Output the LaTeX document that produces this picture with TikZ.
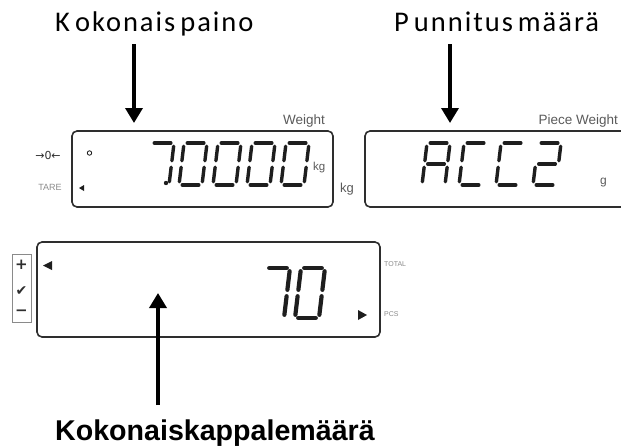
\documentclass[tikz,border=0pt]{standalone}
\usepackage{fontspec}
\setmainfont{Liberation Sans}
\newfontfamily\calib[LetterSpace=7]{Carlito}
\newfontfamily\dejavu{DejaVu Sans}
\usetikzlibrary{arrows.meta}
\definecolor{lcd}{HTML}{1E1E1E}
\definecolor{frame}{HTML}{2E2E2E}
\definecolor{lbl}{HTML}{5A5A5A}
\definecolor{lbllight}{HTML}{8A8A8A}
\def\sW{22}\def\sH{42}\def\sG{3.2}
\newcommand\sgA{\draw[segst] (\sG,0) -- ({\sW-\sG},0);}
\newcommand\sgB{\draw[segst] (\sW,\sG) -- (\sW,{\sH/2-\sG});}
\newcommand\sgC{\draw[segst] (\sW,{\sH/2+\sG}) -- (\sW,{\sH-\sG});}
\newcommand\sgD{\draw[segst] (\sG,\sH) -- ({\sW-\sG},\sH);}
\newcommand\sgE{\draw[segst] (0,{\sH/2+\sG}) -- (0,{\sH-\sG});}
\newcommand\sgF{\draw[segst] (0,\sG) -- (0,{\sH/2-\sG});}
\newcommand\sgG{\draw[segst] (\sG,{\sH/2}) -- ({\sW-\sG},{\sH/2});}
% #1 x of bottom-left, #2 y of top, #3 width, #4 height, #5 slant, #6 segments
\newcommand\lcddigit[6]{%
  \def\sW{#3}\def\sH{#4}%
  \begin{scope}[shift={({#1+#5*#4},#2)},xslant=#5]
    \foreach \s in {#6}{\csname sg\s\endcsname}
  \end{scope}}
\begin{document}
\begin{tikzpicture}[x=1pt,y=-1pt,
  segst/.style={draw=lcd,line width=3.4pt,line cap=round},
  bigseg/.style={segst/.style={draw=lcd,line width=4.2pt,line cap=round}},
  lcdbox/.style={draw=frame,line width=1.6pt,rounded corners=5pt},
  toplbl/.style={inner sep=0pt,font=\calib\fontsize{28.5}{30}\selectfont},
  botlbl/.style={inner sep=0pt,font=\bfseries\fontsize{28.6}{30}\selectfont},
  small/.style={inner sep=0pt,text=lbl},
  arr/.style={line width=3.5pt,-{Triangle[length=15pt,width=17pt]}}]
\useasboundingbox (0,0) rectangle (621,447);
\begin{scope}
\clip (0,0) rectangle (621,447);
% labels
\node[toplbl,anchor=base west] (lblTotal) at (55,31) {K\kern5pt okonais\kern5pt paino};
\node[toplbl,anchor=base west] (lblPiece) at (394,31) {P\kern5pt unnitus\kern5pt määrä};
\node[botlbl,anchor=base west] (lblCount) at (55,440) {Kokonaiskappalemäärä};
% display boxes
\draw[lcdbox] (72,131) rectangle (333,207);
\draw[lcdbox] (365,131) rectangle (626,207);
\draw[lcdbox] (37,242) rectangle (380,337);
% weight display
\node[small,anchor=base east,font=\fontsize{13.5}{14}\selectfont] (tW) at (325,124) {Weight};
\node[small,anchor=center,text=frame,font=\dejavu\fontsize{11}{12}\selectfont] (tZero) at (48,155) {→0←};
\node[small,anchor=center,text=lbllight,font=\fontsize{9}{10}\selectfont] (tTare) at (50,187) {TARE};
\node[small,anchor=base west,font=\fontsize{11.5}{12}\selectfont] (tKgIn) at (313,170) {kg};
\node[small,anchor=base west,font=\fontsize{13}{14}\selectfont] (tKgOut) at (340,192) {kg};
\draw[lcd,line width=0.9pt] (89.5,153) circle (2.2);
\fill[lcd] (84,185) -- (84,191) -- (79,188) -- cycle;
\lcddigit{146}{143}{23}{42}{0.12}{A,B,C}
\fill[lcd] (166,183) circle (2.2);
\lcddigit{179}{143}{23}{42}{0.12}{A,B,C,D,E,F}
\lcddigit{213}{143}{23}{42}{0.12}{A,B,C,D,E,F}
\lcddigit{247}{143}{23}{42}{0.12}{A,B,C,D,E,F}
\lcddigit{281}{143}{23}{42}{0.12}{A,B,C,D,E,F}
% piece weight display
\node[small,anchor=base east,font=\fontsize{13.5}{14}\selectfont] (tPW) at (618,124) {Piece Weight};
\node[small,anchor=base west,font=\fontsize{12}{13}\selectfont] (tG) at (600,184) {g};
\lcddigit{422}{143}{23}{42}{0.12}{A,B,C,E,F,G}
\lcddigit{459}{143}{23}{42}{0.12}{A,D,E,F}
\lcddigit{496}{143}{23}{42}{0.12}{A,D,E,F}
\lcddigit{533}{143}{23}{42}{0.12}{A,B,G,E,D}
% count display
\draw[lbllight,line width=0.8pt] (12,254) rectangle (31,322);
\node[inner sep=0pt,text=frame,font=\dejavu\bfseries\fontsize{15}{15}\selectfont] (tPlus) at (21.5,265) {+};
\node[inner sep=0pt,text=frame,font=\dejavu\fontsize{14}{14}\selectfont] (tCheck) at (21.5,291) {✔};
\node[inner sep=0pt,text=frame,font=\dejavu\bfseries\fontsize{15}{15}\selectfont] (tMinus) at (21.5,313) {−};
\fill[lcd] (52,261) -- (52,270) -- (43,265.5) -- cycle;
\fill[lcd] (358,310) -- (358,320) -- (367,315) -- cycle;
\node[small,anchor=west,text=lbllight,font=\fontsize{7}{8}\selectfont] (tTotal) at (384,264) {TOTAL};
\node[small,anchor=west,text=lbllight,font=\fontsize{7}{8}\selectfont] (tPcs) at (384,314) {PCS};
\begin{scope}[bigseg]
\lcddigit{260}{268}{24}{50}{0.12}{A,B,C}
\lcddigit{295}{268}{24}{50}{0.12}{A,B,C,D,E,F}
\end{scope}
% arrows
\coordinate (a1s) at (134,44);
\coordinate (a1e) at (134,123);
\coordinate (a2s) at (450,44);
\coordinate (a2e) at (450,123);
\coordinate (a3s) at (158,405);
\coordinate (a3e) at (158,293);
\draw[arr] (a1s) -- (a1e);
\draw[arr] (a2s) -- (a2e);
\draw[arr] (a3s) -- (a3e);
\end{scope}
\end{tikzpicture}
\end{document}
